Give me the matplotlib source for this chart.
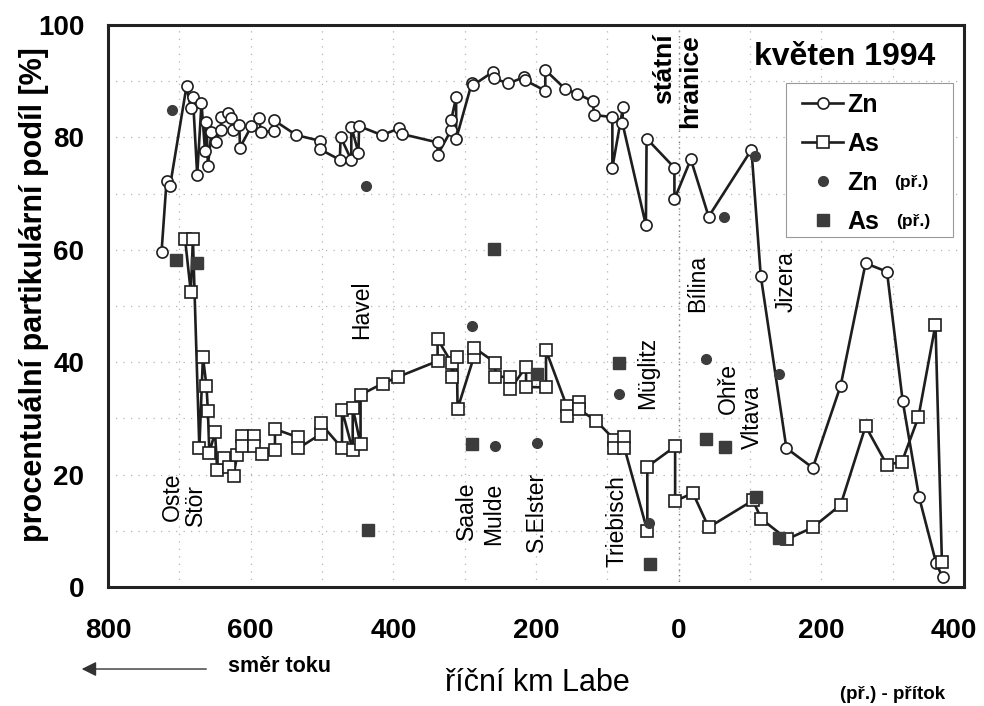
import numpy as np
import matplotlib
matplotlib.use("Agg")
import matplotlib.pyplot as plt
from matplotlib.ticker import FuncFormatter, MultipleLocator
from matplotlib.patches import Rectangle

plt.rcParams['font.family'] = ['Liberation Sans', 'DejaVu Sans']

# river km of the Elbe: negative = German part (downstream), positive = Czech part
zn_km = [-725, -718, -713, -690, -684, -681, -675, -669, -664, -662, -660, -655, -649,
         -642, -641, -632, -628, -625, -616, -615, -599, -589, -585, -568, -568, -536,
         -503, -503, -475, -474, -459, -459, -449, -448, -416, -392, -388, -338, -338,
         -319, -319, -312, -312, -290, -288, -260, -259, -239, -217, -216, -187, -187,
         -159, -143, -120, -119, -93, -93, -78, -79, -46, -45, -6, -6, 17, 42, 102, 115,
         151, 188, 227, 262, 292, 314, 337, 361, 370]
zn_val = [59.6, 72.2, 71.4, 89.1, 85.3, 87.1, 73.3, 86.1, 77.5, 82.8, 74.9, 81.0, 79.1,
          81.4, 83.6, 84.3, 83.4, 81.3, 82.2, 78.2, 82.0, 83.4, 81.0, 81.1, 83.1, 80.4,
          79.4, 77.9, 76.0, 80.1, 76.0, 81.9, 77.3, 82.0, 80.4, 81.6, 80.6, 79.1, 76.9,
          81.3, 83.1, 87.1, 79.7, 89.7, 89.3, 91.7, 90.5, 89.6, 90.7, 90.2, 88.3, 92.0,
          88.6, 87.8, 86.4, 84.0, 83.6, 74.6, 85.4, 82.6, 64.4, 79.8, 74.6, 69.0, 76.1,
          65.9, 77.8, 55.4, 24.7, 21.2, 35.8, 57.6, 56.1, 33.1, 16.0, 4.2, 1.7]

as_km = [-692, -684, -681, -672, -667, -662, -660, -658, -650, -647, -638, -630, -624,
         -619, -612, -612, -596, -596, -584, -566, -566, -533, -533, -502, -502, -472,
         -472, -457, -457, -446, -446, -415, -393, -338, -338, -318, -318, -311, -310,
         -287, -287, -257, -257, -236, -236, -214, -214, -186, -186, -157, -157, -140,
         -140, -116, -90, -90, -76, -76, -44, -44, -5, -5, 20, 42, 104, 116, 152, 188,
         227, 262, 292, 313, 336, 360, 369]
as_val = [61.9, 52.5, 61.9, 24.7, 40.9, 35.8, 31.3, 23.9, 27.5, 20.9, 23.0, 21.3, 19.8,
          23.5, 26.9, 25.0, 26.9, 25.0, 23.7, 24.4, 28.1, 26.6, 24.7, 27.2, 29.1, 24.7,
          31.5, 24.3, 31.9, 25.4, 34.2, 36.2, 37.4, 40.2, 44.1, 39.8, 37.4, 41.0, 31.7,
          41.0, 42.6, 39.9, 37.4, 37.4, 35.2, 39.2, 35.6, 35.5, 42.1, 32.2, 30.4, 33.0,
          31.6, 29.6, 26.2, 24.7, 26.7, 24.7, 10.0, 21.4, 25.0, 15.3, 16.7, 10.6, 15.4,
          12.1, 8.5, 10.6, 14.6, 28.6, 21.7, 22.3, 30.2, 46.7, 4.5]

# tributaries (přítoky)
trib_zn_km = [-710, -438, -290, -258, -199, -83, -41, 38, 63, 107, 141]
trib_zn_val = [84.8, 71.4, 46.4, 25.0, 25.7, 34.3, 11.3, 40.6, 65.9, 76.7, 37.9]
trib_as_km = [-705, -675, -435, -259, -290, -199, -83, -40, 38, 65, 109, 140]
trib_as_val = [58.2, 57.6, 10.1, 60.1, 25.5, 37.9, 39.9, 4.1, 26.3, 24.9, 16.0, 8.8]

rivers = ["Oste", "Stör", "Havel", "Saale", "Mulde", "S.Elster", "Triebisch", "Müglitz",
          "Bílina", "Ohře", "Vltava", "Jizera"]
river_km = [-710, -678, -444, -298, -259, -200, -86, -44, 27, 69, 104, 151]
river_y = [16.0, 14.6, 49.3, 13.5, 13.0, 13.3, 11.7, 38.0, 54.1, 35.4, 30.3, 54.3]

line_c = "#1e1e1e"
trib_c = "#3c3c3c"

fig = plt.figure(figsize=(9.84, 7.06), dpi=100)
ax = fig.add_axes([0.1098, 0.1686, 0.8699, 0.796])

ax.plot(zn_km, zn_val, color=line_c, lw=1.9, marker='o', ms=8, mfc='white',
        mec=line_c, mew=1.2, zorder=3, label='Zn')
ax.plot(as_km, as_val, color=line_c, lw=1.9, marker='s', ms=8.5, mfc='white',
        mec=line_c, mew=1.2, zorder=3, label='As')
ax.plot(trib_zn_km, trib_zn_val, ls='none', marker='o', ms=7, color=trib_c,
        zorder=4, label='Zn')
ax.plot(trib_as_km, trib_as_val, ls='none', marker='s', ms=8, color=trib_c,
        zorder=4, label='As')

ax.set_xlim(-800, 400)
ax.set_ylim(0, 100)
ax.xaxis.set_major_locator(MultipleLocator(200))
ax.xaxis.set_minor_locator(MultipleLocator(100))
ax.yaxis.set_major_locator(MultipleLocator(20))
ax.yaxis.set_minor_locator(MultipleLocator(10))
# km labels without sign; the last one (right edge) is drawn separately below
ax.xaxis.set_major_formatter(
    FuncFormatter(lambda v, p: "" if v >= 399 else f"{abs(int(round(v)))}"))
ax.grid(True, which='both', color='#b5b5b5', ls=(0, (1, 5)), lw=0.9, zorder=0)
ax.axvline(0, color='#777777', ls=(0, (1, 3)), lw=1.0, zorder=1)
ax.tick_params(which='both', length=0)
ax.tick_params(axis='x', pad=22, labelsize=20)
ax.tick_params(axis='y', pad=17, labelsize=20)
for lab in ax.get_xticklabels() + ax.get_yticklabels():
    lab.set_fontweight('bold')
ax.annotate("400", xy=(400, 0), xycoords=('data', 'axes fraction'), xytext=(9.5, -31.8),
            textcoords='offset points', ha='right', va='center', fontsize=20,
            fontweight='bold', annotation_clip=False)
for s in ax.spines.values():
    s.set_linewidth(2.2)
    s.set_color('#222222')

ax.set_ylabel("procentuální partikulární podíl [%]", fontsize=22, fontweight='bold')
ax.yaxis.set_label_coords(-0.069, 0.52)
ax.set_xlabel("říční km Labe", fontsize=22, va='center')
ax.xaxis.set_label_coords(0.501, -0.171)

for name, xk, yv in zip(rivers, river_km, river_y):
    ax.text(xk, yv, name, rotation=90, ha='center', va='center', fontsize=16.5)
ax.text(-20, 92.3, "státní", rotation=90, ha='center', va='center', fontsize=19,
        fontweight='bold')
ax.text(16, 90.0, "hranice", rotation=90, ha='center', va='center', fontsize=19,
        fontweight='bold')

ax.text(0.861, 0.943, "květen 1994", transform=ax.transAxes, ha='center', va='center',
        fontsize=23, fontweight='bold')

# legend box drawn as a plain rectangle, entries placed inside it
ax.add_patch(Rectangle((0.792, 0.623), 0.195, 0.274, transform=ax.transAxes,
                       facecolor='white', edgecolor='#9a9a9a', lw=0.8, zorder=5))
leg = ax.legend(loc='upper left', bbox_to_anchor=(0.8107, 0.879), borderaxespad=0,
                frameon=False, handlelength=1.65, handletextpad=0.15,
                labelspacing=0.6, borderpad=0, prop={'size': 18, 'weight': 'bold'})
leg.set_zorder(6)

# small "(př.)" after the tributary entries of the legend
fig.canvas.draw()
renderer = fig.canvas.get_renderer()
for t in leg.get_texts()[2:]:
    bb = t.get_window_extent(renderer)
    fx, fy = fig.transFigure.inverted().transform((bb.x1 + 17, (bb.y0 + bb.y1) / 2))
    fig.text(fx, fy, "(př.)", ha='left', va='center', fontsize=12.5, fontweight='bold',
             zorder=7)

# flow direction arrow
ax.annotate("", xy=(-0.034, -0.146), xytext=(0.118, -0.146), xycoords='axes fraction',
            textcoords='axes fraction', annotation_clip=False,
            arrowprops=dict(arrowstyle='-|>', color='#333333', lw=1.0,
                            mutation_scale=22))
ax.text(0.140, -0.142, "směr toku", transform=ax.transAxes, ha='left', va='center',
        fontsize=15.5, fontweight='bold')
ax.text(0.916, -0.192, "(př.) - přítok", transform=ax.transAxes, ha='center',
        va='center', fontsize=13.5, fontweight='bold')

fig.savefig("out.png", dpi=100)
